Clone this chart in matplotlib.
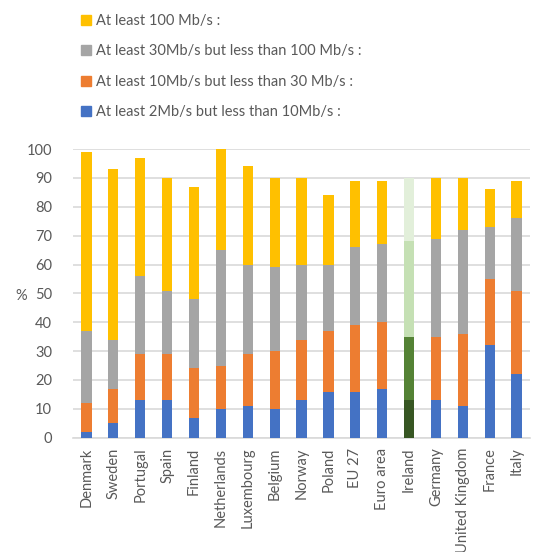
import numpy as np
import matplotlib.pyplot as plt

plt.rcParams['font.family'] = ['Lato', 'DejaVu Sans']

countries = ["Denmark", "Sweden", "Portugal", "Spain", "Finland", "Netherlands",
             "Luxembourg", "Belgium", "Norway", "Poland", "EU 27", "Euro area",
             "Ireland", "Germany", "United Kingdom", "France", "Italy"]

# share of households per speed band (%)
band_2_10 = [2, 5, 13, 13, 7, 10, 11, 10, 13, 16, 16, 17, 13, 13, 11, 32, 22]
band_10_30 = [10, 12, 16, 16, 17, 15, 18, 20, 21, 21, 23, 23, 22, 22, 25, 23, 29]
band_30_100 = [25, 17, 27, 22, 24, 40, 31, 29, 26, 23, 27, 27, 33, 34, 36, 18, 25]
band_100 = [62, 59, 41, 39, 39, 35, 34, 31, 30, 24, 23, 22, 22, 21, 18, 13, 13]

labels = ["At least 2Mb/s but less than 10Mb/s :",
          "At least 10Mb/s but less than 30 Mb/s :",
          "At least 30Mb/s but less than 100 Mb/s :",
          "At least 100 Mb/s :"]
colors = ["#4472C4", "#ED7D31", "#A5A5A5", "#FFC000"]
highlight = "Ireland"
highlight_colors = ["#375623", "#548235", "#C5E0B4", "#E2EFDA"]

txt = "#595959"

fig = plt.figure(figsize=(5.37, 5.52), dpi=100)
ax = fig.add_axes([0.136, 0.207, 0.851, 0.523])

x = np.arange(len(countries))
bottom = np.zeros(len(countries))
handles = []
for vals, col, hcol, lab in zip([band_2_10, band_10_30, band_30_100, band_100],
                                colors, highlight_colors, labels):
    cols = [hcol if c == highlight else col for c in countries]
    b = ax.bar(x, vals, 0.38, bottom=bottom, color=cols, label=lab, zorder=3)
    handles.append(b)
    bottom += np.array(vals)

ax.set_xlim(-0.5, len(countries) - 0.5)
ax.set_ylim(0, 100)
ax.set_yticks(range(0, 101, 10))
ax.grid(axis='y', color='#D9D9D9', linewidth=1.2, zorder=0)
for s in ['top', 'right', 'left']:
    ax.spines[s].set_visible(False)
ax.spines['bottom'].set_color('#D9D9D9')
ax.spines['bottom'].set_linewidth(1.2)
ax.tick_params(length=0, colors=txt, labelsize=10.5)
ax.tick_params(axis='y', pad=15)
ax.tick_params(axis='x', pad=7)
ax.set_xticks(x)
ax.set_xticklabels(countries, rotation=90)
fig.text(0.028, 0.463, "%", color=txt, fontsize=10.5, va='center')

# legend lists the top band first
leg = fig.legend(handles[::-1], labels[::-1], loc='upper left',
                 bbox_to_anchor=(0.151, 0.975), frameon=False,
                 borderpad=0, borderaxespad=0,
                 handlelength=0.65, handleheight=0.65, handletextpad=0.4,
                 labelspacing=1.13, fontsize=10.5, labelcolor=txt)
for h, col in zip(leg.legend_handles, colors[::-1]):
    h.set_color(col)

fig.savefig("out.png", dpi=100)
